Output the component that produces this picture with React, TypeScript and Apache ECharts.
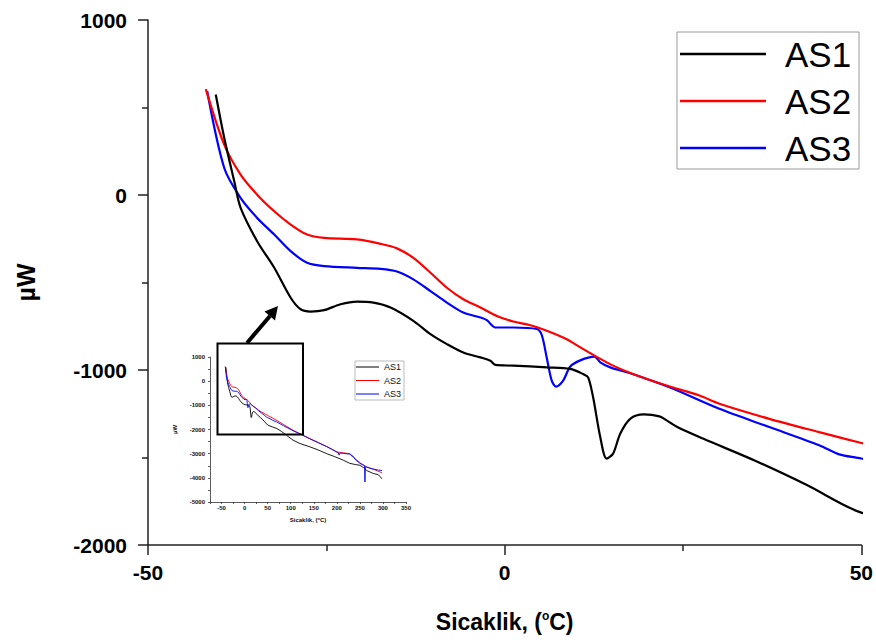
import React, { useEffect, useRef } from "react";
import * as echarts from "echarts";

// ---- Data (temperature °C, heat flow µW) ----
const AS1_T = [-40.5, -39.3, -37.9, -37, -34.7, -32.3, -30, -28.6, -27.2, -25.3, -23, -20.7, -18.4, -16, -12.8, -10.4, -8.1, -5.8, -3.4, -2.0, -1.3, 1.2, 5.9, 9.2, 11.0, 11.7, 12.4, 13.4, 14.3, 15.2, 16.2, 17.6, 19.5, 21.7, 22.7, 24.2, 27.8, 35.2, 42.3, 50,
  60, 70, 80, 91, 105, 120, 142, 160, 178, 195, 214, 228, 240, 250, 258, 265, 279, 290, 298];
const AS1_V = [574, 324, 77, -75, -264, -416, -587, -653, -666, -658, -624, -609, -615, -643, -719, -795, -852, -900, -928, -947, -971, -975, -985, -994, -1023, -1042, -1156, -1383, -1506, -1478, -1364, -1279, -1254, -1265, -1288, -1326, -1392, -1520, -1656, -1815,
  -1890, -1960, -2080, -2240, -2440, -2580, -2720, -2850, -3000, -3120, -3270, -3400, -3450, -3480, -3580, -3700, -3820, -3870, -4040];

const AS2_T = [-41.9, -39.3, -37, -34.7, -32.3, -30, -27.7, -25.3, -20.7, -17.4, -15.1, -12.8, -10.4, -8.1, -5.8, -3.4, -1.1, 1.2, 3.6, 5.9, 8.7, 10.6, 12.9, 15.2, 18.0, 22.7, 27.3, 30.1, 37.1, 44.1, 50,
  60, 70, 85, 105, 125, 142, 160, 178, 190, 200, 215, 228, 235, 240, 252, 265, 280, 294, 298];
const AS2_V = [605, 286, 115, 2, -93, -169, -226, -245, -254, -279, -305, -359, -444, -530, -596, -643, -691, -723, -744, -776, -824, -871, -925, -975, -1023, -1089, -1146, -1193, -1279, -1355, -1417,
  -1520, -1625, -1800, -2030, -2220, -2380, -2540, -2700, -2820, -2930, -2970, -3000, -3100, -3210, -3400, -3550, -3650, -3760, -3800];

const AS3_T = [-41.7, -39.3, -37, -34.7, -32.3, -30, -27.7, -25.3, -20.7, -17.4, -15.1, -12.8, -10.4, -8.1, -5.8, -3.4, -2.5, -1.3, 1.2, 4.5, 5.2, 5.9, 6.6, 7.2, 8.2, 9.2, 10.6, 12.6, 13.4, 14.8, 17.6, 23.1, 30.1, 37.1, 44.1, 46.9, 50,
  60, 70, 85, 105, 125, 142, 160, 178, 195, 203, 205, 207, 228, 236, 242, 250, 258, 260, 261, 262, 275, 290, 298];
const AS3_V = [593, 153, -18, -131, -226, -321, -387, -406, -416, -422, -437, -482, -549, -615, -672, -700, -715, -757, -757, -766, -800, -930, -1061, -1095, -1061, -980, -945, -924, -956, -985, -1019, -1099, -1222, -1326, -1430, -1482, -1506,
  -1610, -1690, -1850, -2050, -2230, -2390, -2550, -2710, -2880, -2960, -3060, -2970, -3020, -3150, -3280, -3400, -3480, -3500, -4170, -3540, -3620, -3680, -3700];

const SERIES_NAMES = ["AS1", "AS2", "AS3"];
const COLORS = ["#000000", "#ff0000", "#0000ff"];
const MAIN_X_TICKS = [-50, 0, 50];
const MAIN_Y_TICKS = [-2000, -1000, 0, 1000];
const INSET_X_RANGE = [-75, 350];
const INSET_Y_RANGE = [-5000, 1000];

const zip = (t: number[], v: number[]) => t.map((x, i) => [x, v[i]]);
const SERIES_DATA = [zip(AS1_T, AS1_V), zip(AS2_T, AS2_V), zip(AS3_T, AS3_V)];

const FONT = "'Liberation Sans', Arial, sans-serif";

export default function App() {
  const ref = useRef<HTMLDivElement>(null);
  useEffect(() => {
    if (!ref.current) return;
    const chart = echarts.init(ref.current, null, { renderer: "svg" });
    const axisLine = { show: true, onZero: false, lineStyle: { color: "#222", width: 1.5 } };
    const insetAxisLine = { show: true, onZero: false, lineStyle: { color: "#333", width: 0.8 } };

    const mainSeries = SERIES_NAMES.map((name, i) => ({
      name,
      type: "line",
      xAxisIndex: 0,
      yAxisIndex: 0,
      data: SERIES_DATA[i],
      symbol: "none",
      smooth: 0.3,
      clip: true,
      lineStyle: { color: COLORS[i], width: 2.2 },
      itemStyle: { color: COLORS[i] },
      z: 3 - i,
    }));
    const insetSeries = SERIES_NAMES.map((name, i) => ({
      name,
      type: "line",
      xAxisIndex: 1,
      yAxisIndex: 1,
      data: SERIES_DATA[i],
      symbol: "none",
      clip: true,
      lineStyle: { color: COLORS[i], width: 0.9 },
      itemStyle: { color: COLORS[i] },
      z: 4,
    }));

    const option: any = {
      animation: false,
      backgroundColor: "#ffffff",
      textStyle: { fontFamily: FONT },
      grid: [
        { left: 148, right: 14, top: 20, bottom: 99 },
        { left: 210, right: 470, top: 357, bottom: 142 },
      ],
      xAxis: [
        {
          type: "value",
          gridIndex: 0,
          min: MAIN_X_TICKS[0],
          max: MAIN_X_TICKS[MAIN_X_TICKS.length - 1],
          interval: 50,
          axisLine,
          axisTick: { show: true, length: 10, lineStyle: { color: "#222", width: 1.5 } },
          minorTick: { show: true, splitNumber: 2, length: 6, lineStyle: { color: "#222", width: 1.5 } },
          splitLine: { show: false },
          axisLabel: { color: "#000", fontSize: 21, fontWeight: "bold", margin: 17, fontFamily: FONT, formatter: (v: number) => String(v) },
          name: "Sicaklik, ({s|o}C)",
          nameLocation: "middle",
          nameGap: 65,
          nameTextStyle: {
            color: "#000",
            fontSize: 23,
            fontWeight: "bold",
            fontFamily: FONT,
            rich: { s: { fontSize: 12, fontWeight: "bold", padding: [0, 0, 11, 0], fontFamily: FONT } },
          },
        },
        {
          type: "value",
          gridIndex: 1,
          min: INSET_X_RANGE[0],
          max: INSET_X_RANGE[1],
          interval: 25,
          axisLine: insetAxisLine,
          axisTick: { show: true, length: 2, lineStyle: { color: "#333", width: 0.8 } },
          splitLine: { show: false },
          axisLabel: {
            color: "#111",
            fontSize: 6,
            fontWeight: "bold",
            margin: 3,
            fontFamily: FONT,
            formatter: (v: number) => (v % 50 === 0 ? String(v) : ""),
          },
          name: "Sicaklik, ({s|o}C)",
          nameLocation: "middle",
          nameGap: 14,
          nameTextStyle: {
            color: "#111",
            fontSize: 6,
            fontWeight: "bold",
            fontFamily: FONT,
            rich: { s: { fontSize: 4, padding: [0, 0, 3, 0], fontFamily: FONT } },
          },
        },
      ],
      yAxis: [
        {
          type: "value",
          gridIndex: 0,
          min: MAIN_Y_TICKS[0],
          max: MAIN_Y_TICKS[MAIN_Y_TICKS.length - 1],
          interval: 1000,
          axisLine,
          axisTick: { show: true, length: 10, lineStyle: { color: "#222", width: 1.5 } },
          minorTick: { show: true, splitNumber: 2, length: 6, lineStyle: { color: "#222", width: 1.5 } },
          splitLine: { show: false },
          axisLabel: { color: "#000", fontSize: 21, fontWeight: "bold", margin: 21, fontFamily: FONT, formatter: (v: number) => String(v) },
          name: "µW",
          nameLocation: "middle",
          nameGap: 110,
          nameTextStyle: { color: "#000", fontSize: 25, fontWeight: "bold", fontFamily: FONT },
        },
        {
          type: "value",
          gridIndex: 1,
          min: INSET_Y_RANGE[0],
          max: INSET_Y_RANGE[1],
          interval: 1000,
          axisLine: insetAxisLine,
          axisTick: { show: true, length: 2, lineStyle: { color: "#333", width: 0.8 } },
          minorTick: { show: true, splitNumber: 2, length: 2, lineStyle: { color: "#333", width: 0.8 } },
          splitLine: { show: false },
          axisLabel: { color: "#111", fontSize: 6, fontWeight: "bold", margin: 5, fontFamily: FONT, formatter: (v: number) => String(v) },
          name: "µW",
          nameLocation: "middle",
          nameGap: 32,
          nameTextStyle: { color: "#111", fontSize: 6, fontWeight: "bold", fontFamily: FONT },
        },
      ],
      legend: [
        {
          data: SERIES_NAMES,
          orient: "vertical",
          left: 677,
          top: 32,
          padding: [4, 4, 3, 3],
          icon: "rect",
          itemWidth: 86,
          itemHeight: 2.5,
          itemGap: 11,
          selectedMode: false,
          borderColor: "#999",
          borderWidth: 1,
          borderRadius: 0,
          textStyle: {
            color: "#000",
            fontSize: 35,
            lineHeight: 36,
            fontFamily: FONT,
            padding: [0, 0, 0, 14],
            width: 70,
          },
        },
        {
          data: SERIES_NAMES,
          orient: "vertical",
          left: 355,
          top: 361,
          padding: [1, 3, 1, 1],
          icon: "rect",
          itemWidth: 23,
          itemHeight: 1,
          itemGap: 3.5,
          selectedMode: false,
          borderColor: "#aaa",
          borderWidth: 0.8,
          borderRadius: 0,
          textStyle: { color: "#111", fontSize: 9, lineHeight: 10, fontFamily: FONT },
        },
      ],
      graphic: [
        {
          type: "rect",
          shape: { x: 217.5, y: 343.5, width: 85.5, height: 91 },
          style: { fill: "none", stroke: "#000", lineWidth: 2 },
          z: 10,
        },
        {
          type: "line",
          shape: { x1: 247, y1: 343, x2: 270, y2: 316 },
          style: { stroke: "#000", lineWidth: 4 },
          z: 10,
        },
        {
          type: "polygon",
          shape: { points: [[278, 306], [275, 320.5], [264.5, 311.5]] },
          style: { fill: "#000" },
          z: 10,
        },
      ],
      series: [...mainSeries, ...insetSeries],
    };
    chart.setOption(option);
    return () => chart.dispose();
  }, []);
  return (
    <div
      ref={ref}
      style={{ position: "absolute", left: 0, top: 0, width: 876, height: 644 }}
    />
  );
}
